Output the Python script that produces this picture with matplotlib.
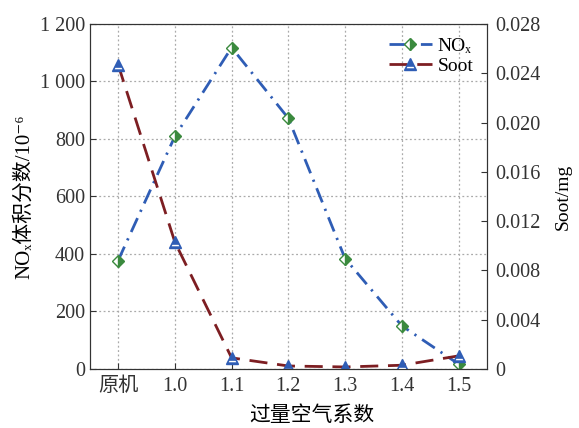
import numpy as np
import matplotlib
matplotlib.use("Agg")
import matplotlib.pyplot as plt
from matplotlib.path import Path
from matplotlib.legend_handler import HandlerTuple
from matplotlib.ticker import FuncFormatter

plt.rcParams["font.family"] = ["Liberation Serif", "DejaVu Serif", "Noto Sans CJK SC"]

categories = ["原机", "1.0", "1.1", "1.2", "1.3", "1.4", "1.5"]
nox = [377, 809, 1118, 872, 384, 150, 17]
soot = [0.0247, 0.0103, 0.0009, 0.00024, 0.00016, 0.0003, 0.00106]

blue = "#2f5db5"
green = "#3b8a3e"
red = "#7d1e22"

# white band inside the triangle marker (first point only sets the scale)
band = Path([(0, 1), (-0.56, -0.42), (0.56, -0.42), (0.68, -0.68), (-0.68, -0.68), (0, 0)],
            [Path.MOVETO, Path.MOVETO, Path.LINETO, Path.LINETO, Path.LINETO, Path.CLOSEPOLY])

x = np.arange(len(categories))

fig = plt.figure(figsize=(5.79, 4.28), dpi=100)
ax = fig.add_axes([0.155, 0.138, 0.686, 0.806])
ax2 = ax.twinx()

nox_style = dict(color=blue, lw=2, linestyle=(0, (5.5, 2.5, 0.8, 2.5)), marker="D",
                 markersize=6.5, fillstyle="right", markerfacecolor=green,
                 markerfacecoloralt="white", markeredgecolor=green, markeredgewidth=1)
soot_style = dict(color=red, lw=2, linestyle=(0, (6.5, 3.5)), marker="^", markersize=8,
                  markerfacecolor=blue, markeredgecolor=blue, markeredgewidth=1)
band_style = dict(linestyle="none", marker=band, markersize=8,
                  markerfacecolor="white", markeredgewidth=0)

ln1, = ax.plot(x, nox, **nox_style)
ln2, = ax2.plot(x, soot, **soot_style)
bd2, = ax2.plot(x, soot, **band_style)

ax2.legend([ln1, (ln2, bd2)], ["NOₓ", "Soot"], loc="upper right", frameon=False,
           fontsize=14, handlelength=2.2, handletextpad=0.3, labelspacing=0.1,
           borderaxespad=0.3, handler_map={tuple: HandlerTuple(ndivide=1)})

ax.set_xlim(-0.5, 6.5)
ax.set_ylim(0, 1200)
ax.set_yticks(np.arange(0, 1201, 200))
ax.yaxis.set_major_formatter(FuncFormatter(lambda v, p: f"{int(v):,}".replace(",", " ")))
ax.set_xticks(x)
ax.set_xticklabels(categories)
ax2.set_ylim(0, 0.028)
ax2.set_yticks(np.arange(0, 0.0281, 0.004))
ax2.yaxis.set_major_formatter(FuncFormatter(lambda v, p: "0" if abs(v) < 1e-9 else f"{v:.3f}"))

ax.grid(True, linestyle=(0, (1.5, 2)), color="#aaaaaa", lw=0.9)
ax.set_axisbelow(True)

for a in (ax, ax2):
    a.tick_params(direction="in", labelsize=14.5, length=4, colors="#333333")
    for s in a.spines.values():
        s.set_color("#333333")
ax.tick_params(axis="x", pad=6)
ax2.tick_params(axis="y", pad=6)

ax.set_xlabel("过量空气系数", fontsize=15)
ax.xaxis.set_label_coords(0.56, -0.108)
ax.set_ylabel("NOₓ体积分数/10⁻⁶", fontsize=15, labelpad=4)
ax2.set_ylabel("Soot/mg", fontsize=14, labelpad=10)

fig.savefig("out.png", dpi=100)
